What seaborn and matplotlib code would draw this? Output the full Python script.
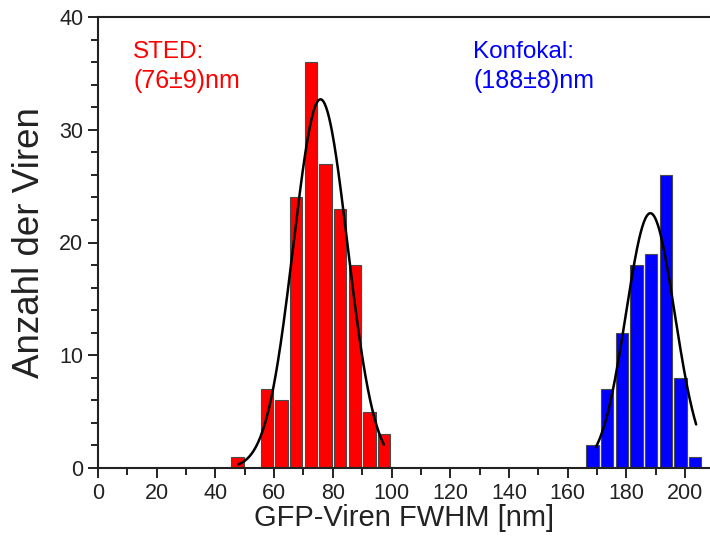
import numpy as np
import pandas as pd
import matplotlib
matplotlib.use("Agg")
import matplotlib.pyplot as plt
from matplotlib.ticker import MultipleLocator
import seaborn as sns

# ---- data ----
sted_centers = [47.5, 57.5, 62.5, 67.5, 72.5, 77.5, 82.5, 87.5, 92.5, 97.5]
sted_counts = [1, 7, 6, 24, 36, 27, 23, 18, 5, 3]
konf_centers = [168.5, 173.5, 178.5, 183.5, 188.5, 193.5, 198.5, 203.5]
konf_counts = [2, 7, 12, 18, 19, 26, 8, 1]
bin_width = 5

# Gaussian fit parameters (centre, sigma, amplitude, drawn range)
sted_fit = dict(mu=75.8, sigma=9.2, amp=32.7, x0=47.8, x1=97.4)
konf_fit = dict(mu=188.2, sigma=8.3, amp=22.6, x0=169.6, x1=203.8)

sted_label = ["STED:", "(76\u00b19)nm"]
konf_label = ["Konfokal:", "(188\u00b18)nm"]
x_label = "GFP-Viren FWHM [nm]"
y_label = "Anzahl der Viren"

sns.set_theme(style="white")
plt.rcParams['font.family'] = ['Liberation Sans', 'DejaVu Sans']

fig = plt.figure(figsize=(7.1, 5.42), dpi=100)
L, R, B, T = 98, 710, 468, 17
ax = fig.add_axes([L / 710, 1 - B / 542, (R - L) / 710, (B - T) / 542])

df_s = pd.DataFrame({"x": sted_centers, "n": sted_counts})
df_k = pd.DataFrame({"x": konf_centers, "n": konf_counts})
sns.histplot(data=df_s, x="x", weights="n", binwidth=bin_width, binrange=(45, 100),
             shrink=0.84, color="#ff0000", alpha=1, edgecolor="#4a4a4a",
             linewidth=0.8, ax=ax)
sns.histplot(data=df_k, x="x", weights="n", binwidth=bin_width, binrange=(166, 206),
             shrink=0.84, color="#0000ff", alpha=1, edgecolor="#4a4a4a",
             linewidth=0.8, ax=ax)

for fit in (sted_fit, konf_fit):
    xs = np.linspace(fit["x0"], fit["x1"], 200)
    ys = fit["amp"] * np.exp(-(xs - fit["mu"]) ** 2 / (2 * fit["sigma"] ** 2))
    sns.lineplot(x=xs, y=ys, color="black", linewidth=1.8, ax=ax)

ax.set_xlim(0, (R - L) / 2.935)
ax.set_ylim(0, 40)
ax.xaxis.set_major_locator(MultipleLocator(20))
ax.xaxis.set_minor_locator(MultipleLocator(10))
ax.yaxis.set_major_locator(MultipleLocator(10))
ax.yaxis.set_minor_locator(MultipleLocator(2))
ax.tick_params(axis="both", which="major", direction="out", length=7.5, width=1.4,
               labelsize=15.5, color="#222222", labelcolor="#222222", pad=3,
               bottom=True, left=True)
ax.tick_params(axis="both", which="minor", direction="out", length=5, width=1.4,
               color="#222222", bottom=True, left=True)
for side in ("left", "bottom", "top"):
    ax.spines[side].set_visible(True)
    ax.spines[side].set_linewidth(1.5)
    ax.spines[side].set_color("#222222")
ax.spines["right"].set_visible(False)

ax.set_xlabel(x_label, fontsize=21, color="#222222", labelpad=0)
ax.set_ylabel(y_label, fontsize=26.5, color="#222222")
ax.yaxis.set_label_coords(-0.084, 0.5)

ax.text(12, 36.4, sted_label[0], color="#ff0000", fontsize=17.5, va="baseline")
ax.text(12, 33.7, sted_label[1], color="#ff0000", fontsize=18, va="baseline")
ax.text(127.8, 36.4, konf_label[0], color="#0000ff", fontsize=17.5, va="baseline")
ax.text(127.8, 33.7, konf_label[1], color="#0000ff", fontsize=18, va="baseline")

fig.savefig("out.png", dpi=100)
